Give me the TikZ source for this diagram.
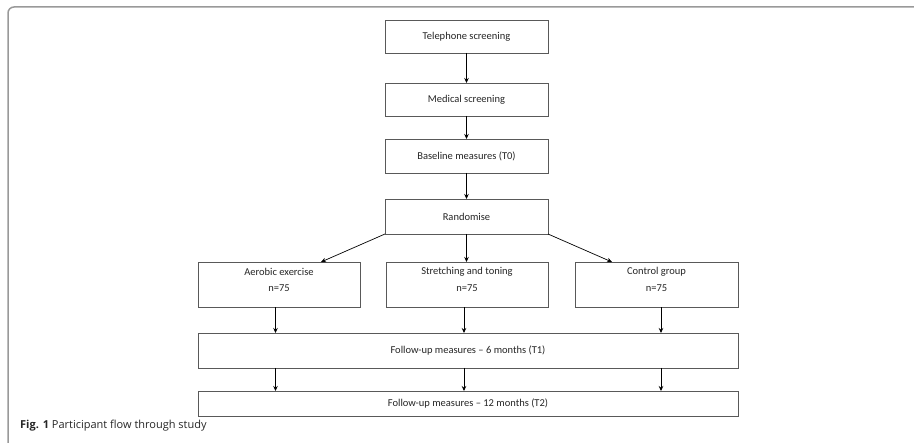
\documentclass[tikz,border=0pt]{standalone}
\usepackage{fontspec}
\setmainfont{Carlito}
\newfontfamily\capfont{Open Sans}
\usetikzlibrary{arrows.meta,calc}
\begin{document}
\begin{tikzpicture}[x=1pt,y=-1pt,
  box/.style={draw=black!65,line width=0.7pt,fill=white,inner sep=0pt,outer sep=0pt,
    font=\fontsize{10.5}{12}\selectfont,text=black!85},
  lbl/.style={inner sep=0pt,font=\fontsize{10.5}{12}\selectfont,text=black!85},
  arr/.style={-{Stealth[length=5pt,width=4.5pt]},line width=0.7pt,black}]
\useasboundingbox (0,0) rectangle (914,443);

% panel frame
\draw[black!40,line width=1.5pt,rounded corners=6pt] (8,443) -- (8,7) -- (914,7);

% screening chain
\node[box,minimum width=163pt,minimum height=33pt] (tel) at (466.5,36.5) {Telephone screening};
\node[box,minimum width=163pt,minimum height=33pt] (med) at (466.5,99.5) {Medical screening};
\node[box,minimum width=163pt,minimum height=34pt] (base) at (466.5,156) {Baseline measures (T0)};
\node[box,minimum width=163pt,minimum height=35pt] (rand) at (466.5,216.5) {Randomise};

% groups
\node[box,minimum width=162pt,minimum height=45.5pt] (aer) at (279,284.75) {};
\node[box,minimum width=162pt,minimum height=45.5pt] (str) at (467,284.75) {};
\node[box,minimum width=163pt,minimum height=45.5pt] (ctl) at (656.5,284.75) {};
\foreach \g/\t in {aer/Aerobic exercise,str/Stretching and toning,ctl/Control group}{
  \node[lbl] at ($(\g.north)+(0,9.5)$) {\t};
  \node[lbl] at ($(\g.north)+(0,26)$) {n=75};
}

% follow-up
\node[box,minimum width=540pt,minimum height=35pt] (t1) at (468,350.5) {Follow-up measures -- 6 months (T1)};
\node[box,minimum width=540pt,minimum height=25pt] (t2) at (468,403.5) {Follow-up measures -- 12 months (T2)};

% connectors
\draw[arr] (tel) -- (med);
\draw[arr] (med) -- (base);
\draw[arr] (base) -- (rand);
\draw[arr] (rand.south west) -- ($(aer.north)+(42,0)$);
\draw[arr] (rand.south) -- (rand.south |- str.north);
\draw[arr] (rand.south east) -- ($(ctl.north)+(-44.5,0)$);

\coordinate (xa) at (275.5,0);
\coordinate (xb) at (464,0);
\coordinate (xc) at (661,0);
\draw[arr] (xa |- aer.south) -- (xa |- t1.north);
\draw[arr] (xb |- str.south) -- (xb |- t1.north);
\draw[arr] (xc |- ctl.south) -- (xc |- t1.north);
\draw[arr] (xa |- t1.south) -- (xa |- t2.north);
\draw[arr] (xb |- t1.south) -- (xb |- t2.north);
\draw[arr] (xc |- t1.south) -- (xc |- t2.north);

% caption
\node[anchor=base west,inner sep=0pt,font=\capfont\fontsize{11}{13}\selectfont,text=black!85] (cap) at (20,429)
  {\textbf{Fig. 1} Participant flow through study};
\end{tikzpicture}
\end{document}
